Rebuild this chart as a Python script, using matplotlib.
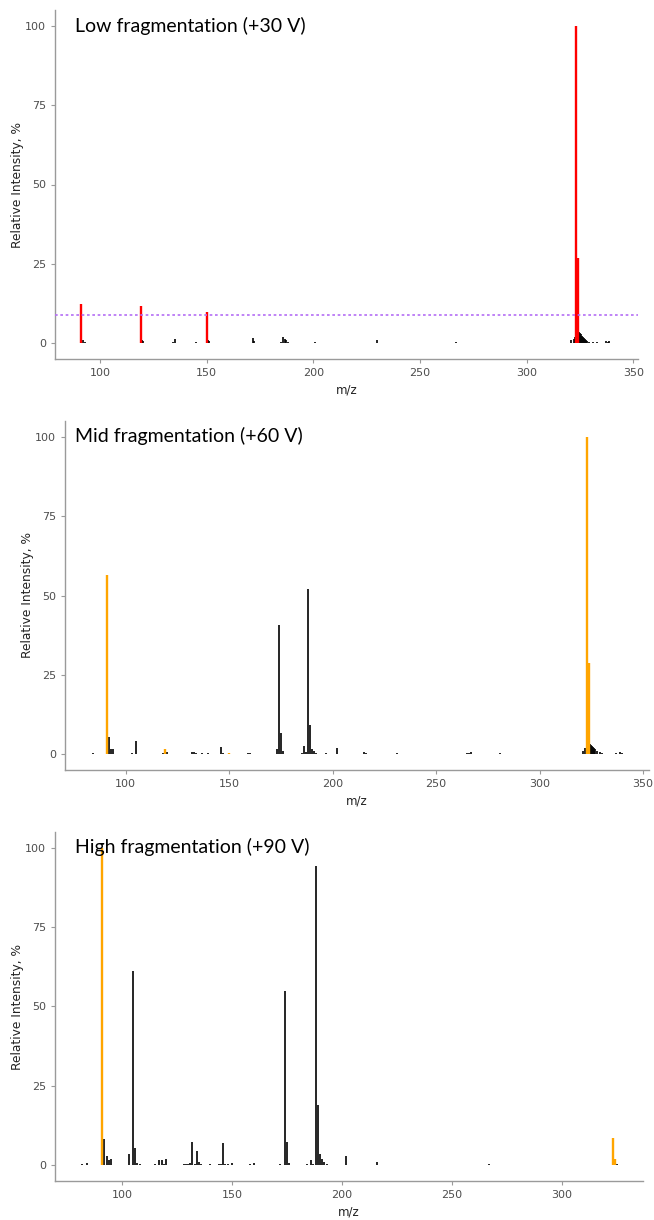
import matplotlib
matplotlib.use("Agg")
import matplotlib.pyplot as plt

# ---------------- data ----------------
# Panel 1: Low fragmentation (+30 V)
low_black_mz = [92, 93, 119.5, 120, 134, 135, 145, 150.5, 151, 157, 171.5, 172, 185, 186, 186.5, 187, 188,
                201, 218, 230, 267, 321, 322, 322.5, 323, 323.5, 324, 324.5, 325, 325.5, 326, 326.5,
                327, 327.5, 328, 328.5, 329, 331, 333, 337, 338, 338.5]
low_black_int = [1.0, 0.3, 1.0, 0.8, 0.3, 1.2, 0.3, 1.0, 0.6, 0.2, 1.5, 0.8, 0.5, 2.0, 1.2, 1.0, 0.5,
                 0.3, 0.2, 1.0, 0.3, 1.0, 1.2, 2.0, 5.0, 4.5, 4.0, 3.6, 3.2, 2.8, 2.4, 2.0,
                 1.6, 1.3, 1.0, 0.7, 0.5, 0.3, 0.3, 0.8, 0.4, 0.6]
low_col_mz = [91, 119, 150, 323, 324]
low_col_int = [12.3, 11.6, 9.7, 100.0, 26.8]
low_threshold = 9.0

# Panel 2: Mid fragmentation (+60 V)
mid_black_mz = [84, 92, 93, 94, 103, 105, 118, 120, 132, 133, 134, 137, 140, 146, 147, 159, 160,
                173, 174, 175, 176, 185, 186, 187, 188, 189, 190, 191, 192, 197, 202,
                215, 216, 231, 265, 266, 267, 281, 321, 322, 323, 323.5, 324.5, 325, 325.5,
                326, 326.5, 327, 328, 329, 330, 337, 339, 340]
mid_black_int = [0.3, 5.3, 1.5, 1.5, 0.3, 4.2, 0.3, 0.7, 0.8, 0.8, 0.5, 0.4, 0.3, 2.3, 0.4, 0.3, 0.3,
                 1.5, 40.6, 6.6, 1.0, 0.4, 2.5, 0.8, 52.0, 9.1, 1.5, 1.0, 0.5, 0.3, 1.8,
                 0.8, 0.4, 0.3, 0.5, 0.3, 0.8, 0.5, 1.0, 2.0, 5.0, 3.5, 3.2, 3.0, 2.6,
                 2.2, 1.8, 1.5, 1.0, 0.6, 0.3, 0.5, 0.8, 0.3]
mid_col_mz = [91, 119, 150, 323, 324]
mid_col_int = [56.5, 1.6, 0.5, 100.0, 28.7]

# Panel 3: High fragmentation (+90 V)
high_black_mz = [82, 84, 92, 93, 94, 95, 103, 105, 106, 107, 108, 115, 117, 118, 119, 120,
                 128, 129, 130, 131, 132, 133, 134, 135, 136, 140, 144, 145, 146, 147, 148, 150,
                 158, 160, 172, 174, 175, 176, 184, 186, 187, 188, 189, 190, 191, 192, 193,
                 202, 216, 267, 325]
high_black_int = [0.3, 0.8, 8.1, 3.0, 1.5, 2.0, 3.4, 61.3, 5.3, 0.6, 0.3, 0.3, 1.5, 1.5, 0.5, 2.0,
                  0.4, 0.5, 0.5, 0.6, 7.4, 0.5, 4.6, 1.0, 0.3, 0.3, 0.3, 0.5, 7.1, 0.5, 0.3, 0.8,
                  0.3, 0.8, 0.5, 55.0, 7.3, 0.8, 0.3, 1.5, 0.5, 94.3, 18.9, 3.5, 2.0, 1.0, 0.5,
                  2.9, 0.9, 0.3, 0.3]
high_col_mz = [91, 323, 324]
high_col_int = [100.0, 8.7, 1.8]

titles = ["Low fragmentation (+30 V)", "Mid fragmentation (+60 V)", "High fragmentation (+90 V)"]
x_ticks = [[100, 150, 200, 250, 300, 350], [100, 150, 200, 250, 300, 350], [100, 150, 200, 250, 300]]
y_ticks = [0, 25, 50, 75, 100]

# ---------------- layout ----------------
W, H = 654, 1220
fig = plt.figure(figsize=(W / 100, H / 100), dpi=100)

panels = [
    dict(box=(55, 638, 10, 359), xlim=(78.9, 352.2), black=(low_black_mz, low_black_int),
         col=(low_col_mz, low_col_int), color="#FF0000", thr=low_threshold, ylab_x=24, title_y=26),
    dict(box=(65, 649, 421, 770), xlim=(70.7, 352.9), black=(mid_black_mz, mid_black_int),
         col=(mid_col_mz, mid_col_int), color="#FFA500", thr=None, ylab_x=34, title_y=436),
    dict(box=(55, 643, 832, 1181), xlim=(69.5, 336.8), black=(high_black_mz, high_black_int),
         col=(high_col_mz, high_col_int), color="#FFA500", thr=None, ylab_x=24, title_y=847),
]

grey = "#4D4D4D"
for i, p in enumerate(panels):
    l, r, t, b = p["box"]
    ax = fig.add_axes([l / W, 1 - b / H, (r - l) / W, (b - t) / H])
    ax.set_xlim(*p["xlim"])
    ax.set_ylim(-5, 105)
    bm, bi = p["black"]
    ax.vlines(bm, 0, bi, colors="black", linewidth=1.2, zorder=2)
    cm, ci = p["col"]
    ax.vlines(cm, 0, ci, colors=p["color"], linewidth=1.7, zorder=3)
    if p["thr"] is not None:
        ax.axhline(p["thr"], color="#B46EF5", linewidth=1.2, linestyle=(0, (1.6, 1.6)), zorder=4)
    for s in ["top", "right"]:
        ax.spines[s].set_visible(False)
    for s in ["left", "bottom"]:
        ax.spines[s].set_color("#9A9A9A")
        ax.spines[s].set_linewidth(1.0)
    ax.set_xticks(x_ticks[i])
    ax.set_yticks(y_ticks)
    ax.tick_params(colors="#9A9A9A", labelcolor=grey, labelsize=8, length=3, width=0.8)
    ax.set_xlabel("m/z", fontsize=8.5, color="#222222", labelpad=4)
    ax.set_ylabel("Relative Intensity, %", fontsize=8.8, color="#222222")
    ax.yaxis.set_label_coords((p["ylab_x"] - l) / (r - l), 0.5)
    ax.text((75 - l) / (r - l), (b - p["title_y"]) / (b - t), titles[i],
            transform=ax.transAxes, fontsize=14, family="Lato", ha="left", va="center",
            color="black")
    ax.set_facecolor("white")

fig.savefig("out.png", dpi=100, facecolor="white")
